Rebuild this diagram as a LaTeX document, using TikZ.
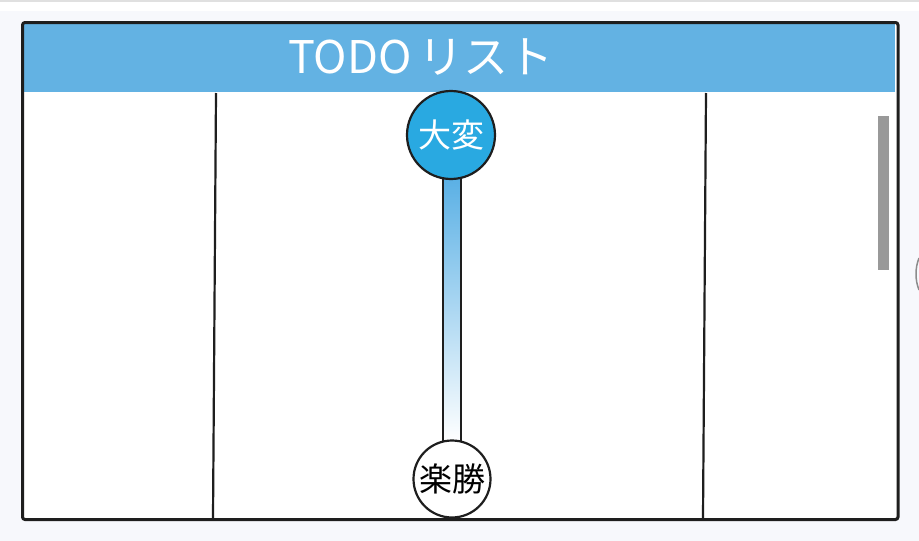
\documentclass[tikz,border=0pt]{standalone}
\usepackage{fontspec}
\newfontfamily\jp{Noto Sans CJK JP}
\definecolor{pagebg}{HTML}{F7F8FC}
\definecolor{headblue}{HTML}{63B2E3}
\definecolor{knobblue}{HTML}{29A9E1}
\definecolor{barblue}{HTML}{5AB0E5}
\definecolor{framek}{HTML}{1E1E1E}
\definecolor{scrollg}{HTML}{999999}
\tikzset{
  divider/.style={draw=framek, line width=2.2pt},
  knob/.style={circle, draw=framek, line width=2.2pt, inner sep=0pt, font=\jp\fontsize{33}{33}\selectfont},
  rail/.style={rectangle, draw=framek, line width=2.2pt, inner sep=0pt, minimum width=18pt, minimum height=264pt, top color=barblue, bottom color=white}
}
\begin{document}
\begin{tikzpicture}[x=1pt,y=-1pt]
\useasboundingbox (0,0) rectangle (919,541);
\fill[pagebg] (0,0) rectangle (919,541);
\fill[white] (0,0) rectangle (919,11);
\fill[black!12] (0,0) rectangle (919,1.5);
% frame
\fill[white] (22,22) rectangle (898,520);
\fill[headblue] (24,24) rectangle (895,92);
\draw[draw=framek, line width=3pt, rounded corners=2.5pt] (22.5,22.5) rectangle (898,519.5);
\node[text=white, font=\jp\fontsize{45}{45}\selectfont] (title) at (421,57) {TODO\,リスト};
% dividers
\coordinate (l1t) at (216,93); \coordinate (l1b) at (213,518);
\coordinate (l2t) at (706,93); \coordinate (l2b) at (703,518);
\draw[divider] (l1t) -- (l1b);
\draw[divider] (l2t) -- (l2b);
% scrollbar
\fill[scrollg] (878,116) rectangle (889,270);
\coordinate (a1) at (919,258); \coordinate (a2) at (919,290);
\draw[black!45, line width=1.5pt] (a1) .. controls (915,268) and (915,280) .. (a2);
% slider
\node[rail] (bar) at (452,310) {};
\node[knob, fill=knobblue, text=white, minimum size=88pt] (hard) at (451,135) {大変};
\node[knob, fill=white, text=black, minimum size=77pt] (easy) at (452,479) {楽勝};
\end{tikzpicture}
\end{document}
